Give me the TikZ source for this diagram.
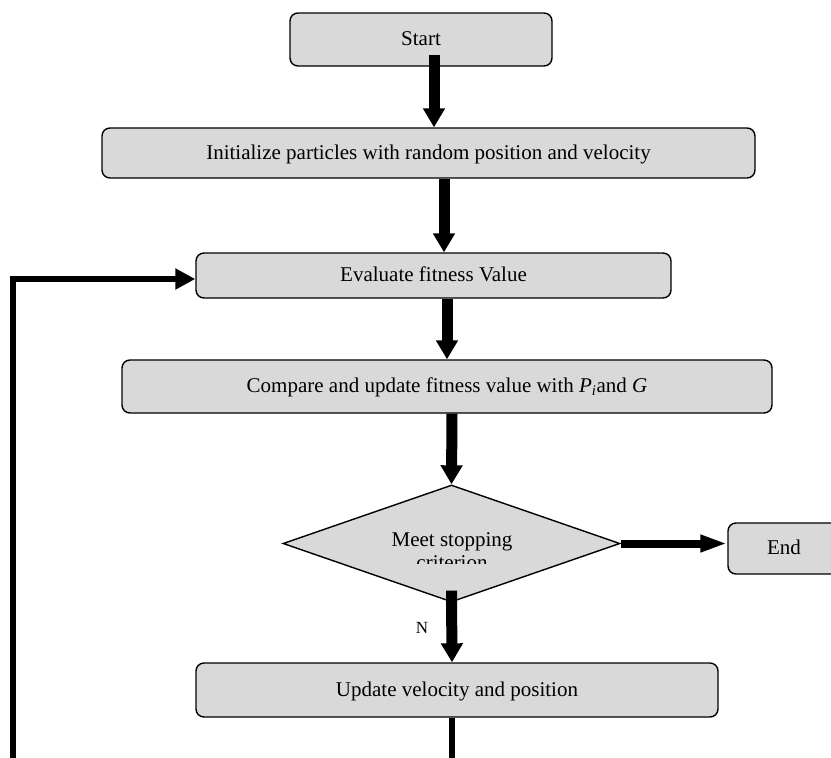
\documentclass[tikz,border=0pt]{standalone}
\usepackage{fontspec}
\setmainfont{Liberation Serif}
\usetikzlibrary{shapes.geometric,arrows.meta}
\definecolor{boxgray}{RGB}{217,217,217}
\begin{document}
\begin{tikzpicture}[x=1pt,y=-1pt,
  box/.style={draw=black,line width=1.4pt,fill=boxgray,rounded corners=8pt,inner sep=0pt,
    font=\fontsize{21}{25}\selectfont,text height=1.3em,text depth=0.1em},
  dia/.style={draw=black,line width=1.4pt,fill=boxgray,diamond,inner sep=0pt},
  lbl/.style={font=\fontsize{21}{25}\selectfont,inner sep=0pt},
  flow/.style={line width=11pt,-{Triangle[width=21pt,length=19pt]}},
  sideflow/.style={line width=8pt,-{Triangle[width=16pt,length=27pt]}},
  loopflow/.style={line width=6.5pt,-{Triangle[width=20pt,length=20pt]}},
  loopline/.style={line width=6pt}]
\useasboundingbox (0,0) rectangle (831,758);
\node[box,minimum width=262pt,minimum height=53pt] (start) at (421,39.5) {Start};
\node[box,minimum width=653pt,minimum height=50pt] (init) at (428.5,153) {Initialize particles with random position and velocity};
\node[box,minimum width=475pt,minimum height=45pt] (eval) at (433.5,275.5) {Evaluate fitness Value};
\node[box,minimum width=650pt,minimum height=53pt] (comp) at (447,386.5) {Compare and update fitness value with \textit{P}\textsubscript{\textit{i}}and \textit{G}};
\node[dia,minimum width=337pt,minimum height=117pt] (decide) at (451.5,543.5) {};
\node[lbl,anchor=base] (dtext1) at (452,546) {Meet stopping};
\begin{scope}
  \clip (283,480) rectangle (620,563);
  \node[lbl,anchor=base] (dtext2) at (452,569) {criterion};
\end{scope}
\node[box,minimum width=112pt,minimum height=51pt] (stop) at (784,548.5) {End};
\node[box,minimum width=522pt,minimum height=54pt] (update) at (457,690) {Update velocity and position};
\node[font=\fontsize{17}{20}\selectfont,inner sep=0pt] (nlabel) at (422,628) {N};
\coordinate (loopa) at (452,775);
\coordinate (loopb) at (13,775);
\draw[flow] ([xshift=13pt,yshift=12pt]start.south) -- ([xshift=5.5pt]init.north);
\draw[flow] ([xshift=15.5pt]init.south) -- ([xshift=10.5pt]eval.north);
\draw[flow] ([xshift=13.5pt]eval.south) -- (comp.north);
\draw[flow] ([xshift=5pt]comp.south) -- (decide.north);
\draw[flow] ([yshift=12pt]decide.south) -- ([xshift=-5pt]update.north);
\draw[sideflow] (decide.east) -- (decide.east -| stop.west);
\draw[loopline] ([xshift=-5pt]update.south) -- (loopa);
\draw[loopflow] (loopb) |- ([yshift=-3.5pt]eval.west);
\end{tikzpicture}
\end{document}
